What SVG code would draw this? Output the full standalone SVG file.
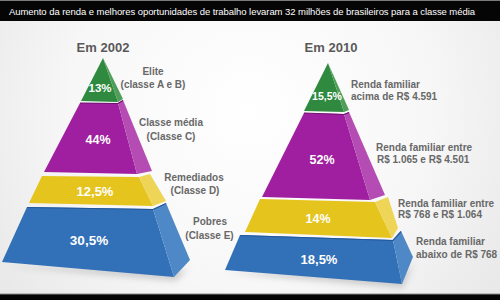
<svg xmlns="http://www.w3.org/2000/svg" width="500" height="300" viewBox="0 0 500 300">
<defs>
<radialGradient id="bg" cx="250" cy="110" r="300" gradientUnits="userSpaceOnUse">
<stop offset="0" stop-color="#ffffff"/>
<stop offset="0.6" stop-color="#f7f7f7"/>
<stop offset="1" stop-color="#e9e9e9"/>
</radialGradient>
<filter id="blur" x="-20%" y="-50%" width="140%" height="200%"><feGaussianBlur stdDeviation="3"/></filter>
<style>
.title{font-family:"Liberation Sans",Arial,sans-serif;font-size:9.5px;fill:#ffffff}
.year{font-family:"Liberation Sans",Arial,sans-serif;font-size:13px;font-weight:bold;fill:#5a5a5a;text-anchor:middle}
.lab{font-family:"Liberation Sans",Arial,sans-serif;font-size:10px;font-weight:bold;fill:#686868}
.c{text-anchor:middle}
.pct{font-family:"Liberation Sans",Arial,sans-serif;font-weight:bold;fill:#ffffff;text-anchor:middle}
.gf{fill:#2f8a3f}.gs{fill:#4f9f5a}
.pf{fill:#a01fa0}.ps{fill:#b44cb4}
.yf{fill:#e6c41e}.ys{fill:#eed457}
.bf{fill:#3270b8}.bs{fill:#4f88c6}
.sep{fill:none;stroke-width:1.2}
.shadow{fill:#9a9a9a;opacity:0.45;filter:url(#blur)}
</style>
</defs>
<rect x="0" y="0" width="500" height="300" fill="url(#bg)"/>
<rect x="0" y="0" width="500" height="21" fill="#050505"/>
<line x1="0" y1="0.5" x2="500" y2="0.5" stroke="#7a7a7a"/>
<text class="title" x="9" y="14.5" textLength="466" lengthAdjust="spacing">Aumento da renda e melhores oportunidades de trabalho levaram 32 milhões de brasileiros para a classe média</text>
<rect x="0" y="294" width="500" height="6" fill="#050505"/>
<line x1="0" y1="294" x2="500" y2="294" stroke="#8a8a8a"/>

<g id="pyramid-2002">
<polygon class="shadow" points="4,266 176,281 192,264 185,270"/>
<text class="year" x="103" y="52">Em 2002</text>
<g id="elite-2002">
<polygon class="gf" points="103,58 81,101 118,102"/>
<polygon class="gs" points="103,58 118,102 123,99"/>
<text class="pct" x="100" y="92" font-size="11.5">13%</text>
<text class="lab c" x="153" y="75">Elite</text>
<text class="lab c" x="153" y="87.5">(classe A e B)</text>
</g>
<g id="media-2002">
<polygon class="pf" points="80,103 118,103 137,174 44,172"/>
<polygon class="ps" points="118,103 123,100 152,171 137,174"/>
<polyline class="sep" stroke="#6e1470" points="80,103 118,103.5 123,100.5"/>
<text class="pct" x="98" y="143.5" font-size="12.5">44%</text>
<text class="lab c" x="171" y="126">Classe média</text>
<text class="lab c" x="171" y="139.5">(Classe C)</text>
</g>
<g id="remediados-2002">
<polygon class="yf" points="42,176 139,177 153,206 29,203"/>
<polygon class="ys" points="139,177 150,174 166,201 153,206"/>
<text class="pct" x="95" y="196" font-size="13">12,5%</text>
<text class="lab c" x="194" y="181">Remediados</text>
<text class="lab c" x="195" y="194">(Classe D)</text>
</g>
<g id="pobres-2002">
<polygon class="bf" points="27,207 153,209 174,277 2,262"/>
<polygon class="bs" points="153,209 166,203 190,260 174,277"/>
<polyline class="sep" stroke="#23579a" points="27,207.5 153,209.5 166,203.5"/>
<text class="pct" x="89" y="245" font-size="13.5">30,5%</text>
<text class="lab c" x="210" y="225">Pobres</text>
<text class="lab c" x="209.5" y="238.5">(Classe E)</text>
</g>
</g>

<g id="pyramid-2010">
<polygon class="shadow" points="226,273 403,288 415,260 408,270"/>
<text class="year" x="331" y="52">Em 2010</text>
<g id="elite-2010">
<polygon class="gf" points="328,63 304,111 344,112"/>
<polygon class="gs" points="328,63 344,112 349,110"/>
<text class="pct" x="327" y="100" font-size="10.5">15,5%</text>
<text class="lab" x="351" y="87.5">Renda familiar</text>
<text class="lab" x="351" y="100">acima de R$ 4.591</text>
</g>
<g id="media-2010">
<polygon class="pf" points="304,113 344,114 370,200 262,197"/>
<polygon class="ps" points="344,114 349,112 385,195 370,200"/>
<polyline class="sep" stroke="#6e1470" points="304,113 344,114.5 349,112.5"/>
<text class="pct" x="322" y="163.5" font-size="12.5">52%</text>
<text class="lab" x="376" y="151">Renda familiar entre</text>
<text class="lab" x="377" y="162.5">R$ 1.065 e R$ 4.501</text>
</g>
<g id="d-2010">
<polygon class="yf" points="260,199 375,202 392,238 245,232"/>
<polygon class="ys" points="375,202 388,197 398,228 392,238"/>
<text class="pct" x="318" y="222.5" font-size="12.5">14%</text>
<text class="lab" x="398" y="206.5">Renda familiar entre</text>
<text class="lab" x="398" y="218">R$ 768 e R$ 1.064</text>
</g>
<g id="e-2010">
<polygon class="bf" points="240,235 393,240 402,284 225,270"/>
<polygon class="bs" points="393,240 401,231 413,257 402,284"/>
<polyline class="sep" stroke="#23579a" points="240,235.5 393,240.5 401,231.5"/>
<text class="pct" x="319" y="263.5" font-size="13">18,5%</text>
<text class="lab" x="416" y="245">Renda familiar</text>
<text class="lab" x="416" y="257.5">abaixo de R$ 768</text>
</g>
</g>
</svg>
